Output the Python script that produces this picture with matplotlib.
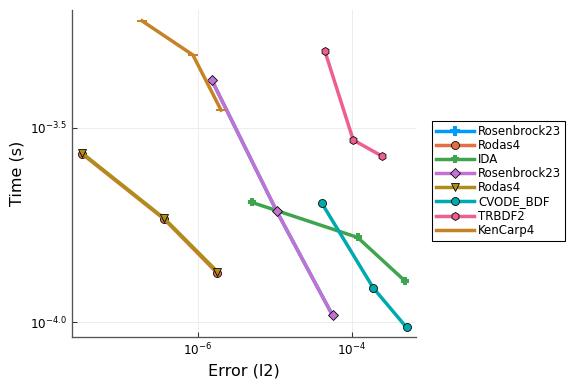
import numpy as np
import matplotlib
matplotlib.use('Agg')
import matplotlib.pyplot as plt
from matplotlib.ticker import FixedLocator, FuncFormatter, NullLocator

# work-precision data (log10 error, log10 time)
names = ['Rosenbrock23', 'Rodas4', 'IDA', 'Rosenbrock23', 'Rodas4',
         'CVODE_BDF', 'TRBDF2', 'KenCarp4']
log_err = [
    [-5.822, -4.978, -4.251],
    [-7.510, -6.438, -5.749],
    [-5.295, -3.926, -3.312],
    [-5.822, -4.978, -4.251],
    [-7.510, -6.438, -5.749],
    [-4.390, -3.723, -3.290],
    [-4.351, -3.983, -3.614],
    [-6.727, -6.065, -5.700],
]
log_time = [
    [-3.376, -3.714, -3.983],
    [-3.566, -3.735, -3.874],
    [-3.692, -3.782, -3.894],
    [-3.376, -3.714, -3.983],
    [-3.564, -3.733, -3.870],
    [-3.694, -3.912, -4.014],
    [-3.302, -3.531, -3.572],
    [-3.224, -3.312, -3.454],
]
colors = ['#009AFA', '#E36F47', '#3EA44E', '#C371D2', '#AC8E18',
          '#00A9AD', '#ED5E93', '#C68225']
markers = ['P', 'o', 'P', 'D', 'v', 'o', 'h', '_']

fig = plt.figure(figsize=(6, 4), dpi=96)
ax = fig.add_axes([0.125, 0.122, 0.597, 0.852])

for i in range(len(names)):
    x = 10 ** np.array(log_err[i])
    y = 10 ** np.array(log_time[i])
    m = markers[i]
    ms = 6
    mec = 'black'
    if m == 'P':
        mec = colors[i]
        ms = 5 if i == 2 else 3.5
    if m == 'D':
        ms = 5
    if m == '_':
        mec = colors[i]
        ms = 7
    ax.plot(x, y, color=colors[i], lw=2.6, marker=m, ms=ms,
            mfc=colors[i], mec=mec, mew=0.6 if mec == 'black' else 1.5,
            label=names[i])

ax.set_xscale('log')
ax.set_yscale('log')
ax.set_xlim(10 ** -7.636, 10 ** -3.169)
ax.set_ylim(10 ** -4.039, 10 ** -3.196)

ax.xaxis.set_major_locator(FixedLocator([1e-6, 1e-4]))
ax.xaxis.set_minor_locator(NullLocator())
ax.xaxis.set_major_formatter(FuncFormatter(lambda v, p: r'$10^{%d}$' % round(np.log10(v))))
ax.yaxis.set_major_locator(FixedLocator([10 ** -4.0, 10 ** -3.5]))
ax.yaxis.set_minor_locator(NullLocator())
ax.yaxis.set_major_formatter(FuncFormatter(lambda v, p: r'$10^{%.1f}$' % np.log10(v)))

ax.grid(True, color='#ececec', lw=0.7)
ax.tick_params(direction='in', length=4, width=0.8, labelsize=9, color='#333333')
for s in ['top', 'right']:
    ax.spines[s].set_visible(False)
for s in ['left', 'bottom']:
    ax.spines[s].set_color('#555555')
    ax.spines[s].set_linewidth(1.0)

ax.set_xlabel('Error (l2)', fontsize=12)
ax.set_ylabel('Time (s)', fontsize=12)

leg = ax.legend(loc='center left', bbox_to_anchor=(1.048, 0.478), fontsize=8.8,
                fancybox=False, framealpha=1, edgecolor='black',
                handlelength=3.2, borderpad=0.35, labelspacing=0.1,
                handletextpad=0.35, borderaxespad=0)
leg.get_frame().set_linewidth(0.8)
for h in leg.legend_handles[:1]:
    h.set_markersize(6)

fig.savefig('out.png', dpi=96)
